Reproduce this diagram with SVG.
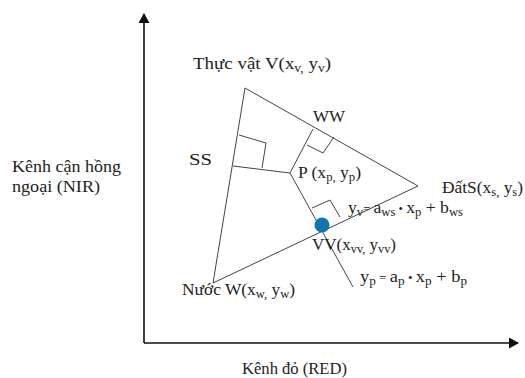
<svg xmlns="http://www.w3.org/2000/svg" width="525" height="378" viewBox="0 0 525 378">
<style>
.s{font-size:11.5px}
.ln{stroke:#444;stroke-width:1;fill:none}
.ax{stroke:#111;stroke-width:1.6;fill:none}
</style>
<defs>
<marker id="ah" markerWidth="10" markerHeight="11" refX="9" refY="5.5" orient="auto" markerUnits="userSpaceOnUse">
<path d="M0,0 L10,5.5 L0,11 Z" fill="#111"/>
</marker>
</defs>
<rect width="525" height="378" fill="#fff"/>
<g id="connectors">
<line class="ax" x1="144" y1="343" x2="144" y2="14" marker-end="url(#ah)"/>
<line class="ax" x1="144" y1="343" x2="518" y2="343" marker-end="url(#ah)"/>
<polygon class="ln" points="245,88 418,186 213,283"/>
<line class="ln" x1="290" y1="173" x2="233" y2="166"/>
<line class="ln" x1="290" y1="173" x2="313" y2="129"/>
<line class="ln" x1="290" y1="173" x2="353" y2="287"/>
<polyline class="ln" points="239,135 266,143 262,168"/>
<polyline class="ln" points="307,145 323,153 334,137"/>
<polyline class="ln" points="312,208 330,200 340,217"/>
</g>
<g id="V"><text x="193" y="69" textLength="138" lengthAdjust="spacingAndGlyphs" style="font-family:'Liberation Serif',serif;font-size:16px;fill:#222">Thực vật V(x<tspan class="s" dy="3">v,</tspan><tspan dy="-3"> y</tspan><tspan class="s" dy="3">v</tspan><tspan dy="-3">)</tspan></text></g>
<g id="WW"><text x="313" y="122" textLength="32" lengthAdjust="spacingAndGlyphs" style="font-family:'Liberation Serif',serif;font-size:16px;fill:#222">WW</text></g>
<g id="SS"><text x="189" y="165" textLength="23" lengthAdjust="spacingAndGlyphs" style="font-family:'Liberation Serif',serif;font-size:16px;fill:#222">SS</text></g>
<g id="P"><text x="298" y="178" textLength="63" lengthAdjust="spacingAndGlyphs" style="font-family:'Liberation Serif',serif;font-size:16px;fill:#222">P (x<tspan class="s" dy="3">p,</tspan><tspan dy="-3"> y</tspan><tspan class="s" dy="3">p</tspan><tspan dy="-3">)</tspan></text></g>
<g id="S"><text x="442" y="193" textLength="81" lengthAdjust="spacingAndGlyphs" style="font-family:'Liberation Serif',serif;font-size:16px;fill:#222">ĐấtS(x<tspan class="s" dy="3">s,</tspan><tspan dy="-3"> y</tspan><tspan class="s" dy="3">s</tspan><tspan dy="-3">)</tspan></text></g>
<g id="eq1"><text x="348" y="213" textLength="115" lengthAdjust="spacingAndGlyphs" style="font-family:'Liberation Serif',serif;font-size:16px;fill:#222">y<tspan class="s" dy="3">v</tspan><tspan dy="-3" class="s">= </tspan><tspan>a</tspan><tspan class="s" dy="3">ws</tspan><tspan dy="-3" class="s"> • </tspan><tspan>x</tspan><tspan class="s" dy="3">p</tspan><tspan dy="-3"> + b</tspan><tspan class="s" dy="3">ws</tspan></text></g>
<g id="VV"><circle cx="322" cy="225" r="7.5" fill="#0E76B0"/><text x="312" y="250" textLength="84" lengthAdjust="spacingAndGlyphs" style="font-family:'Liberation Serif',serif;font-size:16px;fill:#222">VV(x<tspan class="s" dy="3">vv,</tspan><tspan dy="-3"> y</tspan><tspan class="s" dy="3">vv</tspan><tspan dy="-3">)</tspan></text></g>
<g id="eq2"><text x="360" y="282" textLength="107" lengthAdjust="spacingAndGlyphs" style="font-family:'Liberation Serif',serif;font-size:16px;fill:#222">y<tspan class="s" dy="3">p</tspan><tspan dy="-3" class="s"> = </tspan><tspan>a</tspan><tspan class="s" dy="3">p</tspan><tspan dy="-3" class="s"> • </tspan><tspan>x</tspan><tspan class="s" dy="3">p</tspan><tspan dy="-3"> + b</tspan><tspan class="s" dy="3">p</tspan></text></g>
<g id="W"><text x="182" y="295" textLength="113" lengthAdjust="spacingAndGlyphs" style="font-family:'Liberation Serif',serif;font-size:16px;fill:#222">Nước W(x<tspan class="s" dy="3">w,</tspan><tspan dy="-3"> y</tspan><tspan class="s" dy="3">w</tspan><tspan dy="-3">)</tspan></text></g>
<g id="NIR"><text x="12" y="172" textLength="109" lengthAdjust="spacingAndGlyphs" style="font-family:'Liberation Serif',serif;font-size:16px;fill:#222">Kênh cận hồng</text><text x="12" y="192" textLength="88" lengthAdjust="spacingAndGlyphs" style="font-family:'Liberation Serif',serif;font-size:16px;fill:#222">ngoại (NIR)</text></g>
<g id="RED"><text x="242" y="374" textLength="105" lengthAdjust="spacingAndGlyphs" style="font-family:'Liberation Serif',serif;font-size:16px;fill:#222">Kênh đỏ (RED)</text></g>
</svg>
